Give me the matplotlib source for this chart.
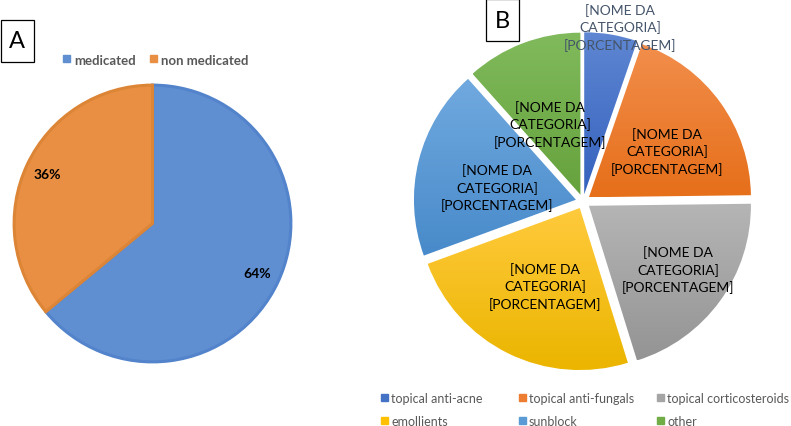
import numpy as np
import matplotlib
matplotlib.use("Agg")
import matplotlib.pyplot as plt
from matplotlib.patches import Rectangle
from matplotlib.transforms import offset_copy

plt.rcParams["font.family"] = ["Lato", "DejaVu Sans"]

# Panel A data
status_labels = ["medicated", "non medicated"]
status_values = [64, 36]
status_colors = ["#5F8ED1", "#E88F43"]
status_edges = ["#5283CB", "#DD8536"]

# Panel B data
product_labels = ["topical anti-acne", "topical anti-fungals", "topical corticosteroids",
                  "emollients", "sunblock", "other"]
product_values = [5.3, 19.5, 20.4, 24.2, 19.0, 11.6]
grad_top = ["#5E86D2", "#F28E4C", "#B5B5B5", "#FFCA3C", "#70A9DF", "#80BA5C"]
grad_bot = ["#3562BE", "#E66F1A", "#949494", "#EBB500", "#488ACA", "#66A23D"]
legend_colors = ["#4472C4", "#ED7D31", "#A5A5A5", "#FFC000", "#5B9BD5", "#70AD47"]
placeholder = "[NOME DA\nCATEGORIA]\n[PORCENTAGEM]"
# label placement: distance from slice centre (radius units) and clockwise turn (deg)
label_dist = [1.068, 0.567, 0.667, 0.516, 0.495, 0.486]
label_turn = [2.4, 4.1, -1.4, -1.7, -3.7, -1.8]

W, H = 791, 427
fig = plt.figure(figsize=(W / 100, H / 100), dpi=100)


def fx(x):
    return x / W


def fy(y):
    return 1 - y / H


def square_axes(cx, cy, r, pad=1.0):
    half = r * pad
    ax = fig.add_axes([fx(cx - half), fy(cy + half), 2 * half / W, 2 * half / H])
    ax.set_xlim(-pad, pad)
    ax.set_ylim(-pad, pad)
    ax.set_aspect("equal")
    ax.axis("off")
    return ax


# ---- panel A
axA = square_axes(152.5, 224.5, 140.5, pad=1.05)
wedges, _, autotexts = axA.pie(
    status_values, colors=status_colors, startangle=90, counterclock=False,
    autopct="%1.0f%%", pctdistance=0.84, radius=0.985,
    wedgeprops=dict(linewidth=2.2),
    textprops=dict(fontsize=10, fontweight="bold", color="black"),
)
for w, ec in zip(wedges, status_edges):
    w.set_edgecolor(ec)
axA.set_xlim(-1.05, 1.05)
axA.set_ylim(-1.05, 1.05)

lx = [63, 150]
for x0, lab, col in zip(lx, status_labels, status_colors):
    fig.patches.append(Rectangle((fx(x0), fy(63)), 7 / W, 7 / H, color=col,
                                 transform=fig.transFigure))
    fig.text(fx(x0 + 11), fy(61), lab, fontsize=9.5, fontweight="bold",
             color="#595959", va="center", ha="left")

fig.patches.append(Rectangle((fx(0.5), fy(63)), 33 / W, 42 / H, fill=False,
                             edgecolor="black", linewidth=0.9, transform=fig.transFigure))
fig.text(fx(17), fy(42), "A", fontsize=17, ha="center", va="center")

# ---- panel B
axB = square_axes(583, 202.5, 162, pad=1.2)
wedgesB, _ = axB.pie(product_values, startangle=90, counterclock=False,
                     explode=[0.045] * 6, colors=legend_colors,
                     wedgeprops=dict(linewidth=0))

# vertical light-to-dark gradient inside each slice
for w, c0, c1 in zip(wedgesB, grad_top, grad_bot):
    bb = w.get_path().get_extents()
    t0 = np.array(matplotlib.colors.to_rgb(c0))
    t1 = np.array(matplotlib.colors.to_rgb(c1))
    s = np.linspace(0, 1, 64)[:, None]
    img = (t0 * (1 - s) + t1 * s)[:, None, :]
    im = axB.imshow(img, extent=[bb.x0, bb.x1, bb.y0, bb.y1], origin="upper",
                    aspect="auto", zorder=2)
    im.set_clip_path(w)
    w.set_facecolor("none")
axB.set_xlim(-1.2, 1.2)
axB.set_ylim(-1.2, 1.2)

lab_trans = offset_copy(axB.transData, fig=fig, x=0, y=-2, units="dots")
for i, (w, d, turn) in enumerate(zip(wedgesB, label_dist, label_turn)):
    ang = np.deg2rad((w.theta1 + w.theta2) / 2 - turn)
    cx, cy = w.center
    col = "#44546A" if i == 0 else "black"
    axB.text(cx + d * np.cos(ang), cy + d * np.sin(ang), placeholder,
             ha="center", va="center", fontsize=10, color=col,
             linespacing=1.4, zorder=5, transform=lab_trans)

fig.patches.append(Rectangle((fx(486), fy(42)), 33 / W, 42 / H, fill=False,
                             edgecolor="black", linewidth=0.9, transform=fig.transFigure))
fig.text(fx(502.5), fy(22), "B", fontsize=17, ha="center", va="center")

col_x = [381, 519, 657]
row_y = [399, 422]
for i, (lab, col) in enumerate(zip(product_labels, legend_colors)):
    x0 = col_x[i % 3]
    y0 = row_y[i // 3]
    fig.patches.append(Rectangle((fx(x0), fy(y0 + 3)), 7 / W, 7 / H, color=col,
                                 transform=fig.transFigure))
    fig.text(fx(x0 + 10), fy(y0), lab, fontsize=9, color="#595959",
             va="center", ha="left")

fig.savefig("out.png", dpi=100)
